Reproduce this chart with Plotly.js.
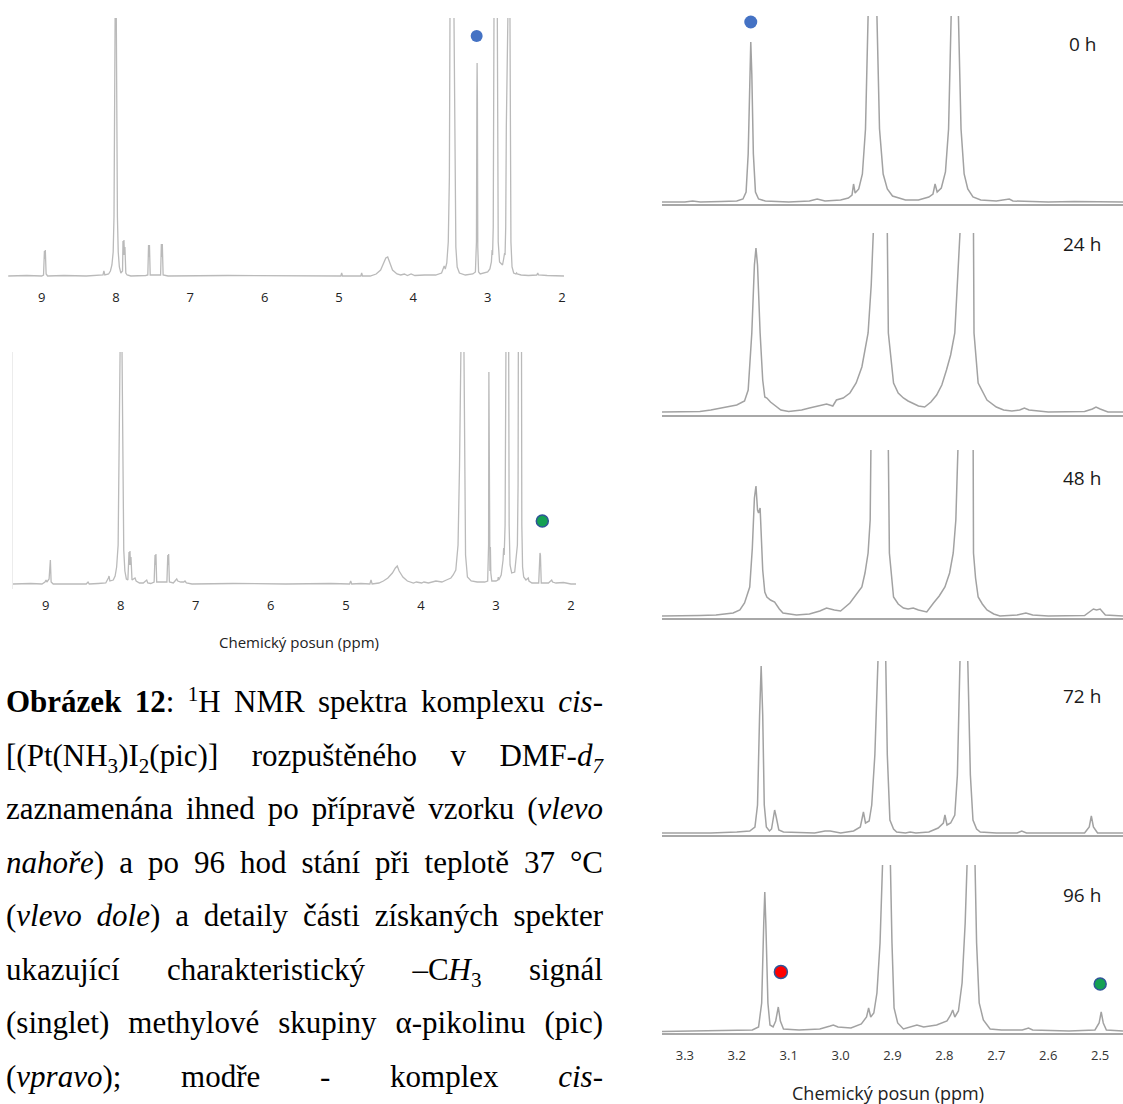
<!DOCTYPE html>
<html>
<head>
<meta charset="utf-8">
<script src="https://cdn.plot.ly/plotly-3.0.1.min.js"></script>
<style>
  html, body { margin:0; padding:0; background:#fff; }
  #wrap { position:relative; width:1123px; height:1104px; overflow:hidden; }
  #chart { position:absolute; left:0; top:0; width:1123px; height:1104px; }
  #caption { position:absolute; left:6px; top:675px; width:597px;
             font-family:"Liberation Serif","Times New Roman",serif; font-size:31px; color:#000; }
  #caption .ln { height:53.5px; line-height:53.5px; text-align:justify; text-align-last:justify; }
  #caption sub, #caption sup { line-height:0; font-size:68%; }
</style>
</head>
<body>
<div id="wrap">
  <div id="chart"></div>
  <div id="caption">
    <div class="ln"><b>Obrázek 12</b>: <sup>1</sup>H NMR spektra komplexu <i>cis</i>-</div>
    <div class="ln">[(Pt(NH<sub>3</sub>)I<sub>2</sub>(pic)] rozpuštěného v DMF-<i>d<sub>7</sub></i></div>
    <div class="ln">zaznamenána ihned po přípravě vzorku (<i>vlevo</i></div>
    <div class="ln"><i>nahoře</i>) a po 96 hod stání při teplotě 37 °C</div>
    <div class="ln">(<i>vlevo dole</i>) a detaily části získaných spekter</div>
    <div class="ln">ukazující charakteristický –C<i>H</i><sub>3</sub> signál</div>
    <div class="ln">(singlet) methylové skupiny α-pikolinu (pic)</div>
    <div class="ln">(<i>vpravo</i>); modře - komplex <i>cis</i>-</div>
  </div>
</div>
<script>
// ---------------- DATA (ppm, intensity) ----------------
// Full spectrum, freshly prepared sample (top left)
const specTop = [[9.45,1],[9.20,1.5],[9.00,1],[8.975,2],[8.963,26],[8.957,18],[8.951,27],[8.940,3],[8.92,1],[8.70,1.5],[8.40,1],[8.25,1.5],[8.175,2],[8.163,6],[8.150,2],[8.10,3],[8.075,6],[8.055,12],[8.038,25],[8.027,60],[8.018,150],[8.012,259],[8.011,400],[7.997,400],[7.996,259],[7.990,150],[7.981,60],[7.970,25],[7.955,10],[7.935,4],[7.912,6],[7.906,36],[7.899,22],[7.893,37],[7.887,22],[7.880,30],[7.868,4],[7.850,2],[7.80,1],[7.60,1.5],[7.572,2],[7.562,32],[7.556,20],[7.550,32],[7.540,2],[7.40,2],[7.390,33],[7.383,20],[7.377,33],[7.366,2],[7.30,1],[6.50,1.5],[5.60,1],[5.00,1],[4.975,1],[4.964,4],[4.953,1],[4.80,1],[4.706,1],[4.695,4],[4.684,1],[4.58,1],[4.50,3],[4.44,7],[4.40,13],[4.37,19],[4.345,20],[4.32,15],[4.28,7],[4.22,3],[4.17,2],[4.12,3],[4.08,1.5],[4.03,3],[3.98,1.5],[3.85,2],[3.70,2],[3.62,4],[3.595,10],[3.585,11],[3.57,8],[3.550,14],[3.530,35],[3.515,100],[3.507,259],[3.506,400],[3.454,400],[3.453,259],[3.442,100],[3.428,30],[3.41,10],[3.38,4],[3.30,2],[3.20,3],[3.165,5],[3.151,35],[3.145,178],[3.142,214],[3.138,178],[3.133,30],[3.122,5],[3.10,3],[3.04,4],[3.00,5],[2.97,8],[2.950,15],[2.940,27],[2.934,22],[2.925,50],[2.918,150],[2.915,259],[2.914,400],[2.871,400],[2.870,259],[2.866,150],[2.858,35],[2.84,15],[2.80,12],[2.785,18],[2.772,24],[2.766,22],[2.757,50],[2.749,150],[2.744,259],[2.743,400],[2.701,400],[2.700,259],[2.696,150],[2.687,35],[2.672,10],[2.65,4],[2.62,3],[2.610,4],[2.602,3],[2.55,2],[2.45,1.5],[2.34,2],[2.326,4],[2.316,2],[2.20,1.5],[2.10,1],[1.973,1]];

// Full spectrum after 96 h at 37 °C (bottom left)
const specBottom = [[9.436,1],[9.20,1.5],[9.05,1],[9.010,3],[8.996,5],[8.985,3],[8.955,6],[8.948,24],[8.943,18],[8.938,25],[8.928,3],[8.90,1],[8.60,1],[8.46,1],[8.436,3],[8.42,1],[8.30,1.5],[8.20,2],[8.165,7],[8.156,9],[8.145,4],[8.10,5],[8.075,9],[8.055,18],[8.035,40],[8.022,110],[8.009,233],[8.008,400],[7.984,400],[7.983,233],[7.972,110],[7.960,35],[7.945,14],[7.925,6],[7.905,5],[7.890,33],[7.883,20],[7.877,34],[7.871,20],[7.864,28],[7.850,5],[7.825,6],[7.810,7],[7.795,4],[7.75,2],[7.70,2],[7.665,4],[7.654,5],[7.640,2],[7.60,1.5],[7.555,3],[7.543,30],[7.537,20],[7.531,31],[7.521,3],[7.385,3],[7.373,30],[7.368,20],[7.362,31],[7.352,3],[7.30,2],[7.270,5],[7.254,6],[7.240,4],[7.20,3],[7.160,3],[7.144,4],[7.125,2],[7.05,1],[6.50,1.5],[5.80,1],[5.20,1.5],[4.95,1],[4.936,4],[4.922,1],[4.80,1.5],[4.68,1],[4.665,5],[4.650,1],[4.56,2],[4.50,4],[4.44,7],[4.38,12],[4.34,17],[4.315,19],[4.29,14],[4.24,8],[4.18,4],[4.13,3],[4.10,2],[4.06,3],[3.99,2],[3.96,3],[3.90,2],[3.80,4],[3.72,3],[3.66,5],[3.60,7],[3.570,10],[3.555,13],[3.535,15],[3.505,40],[3.485,120],[3.467,233],[3.466,400],[3.427,400],[3.426,233],[3.418,100],[3.405,30],[3.38,8],[3.33,4],[3.25,3],[3.15,3],[3.110,4],[3.098,40],[3.094,213],[3.090,133],[3.086,40],[3.080,14],[3.074,38],[3.068,12],[3.055,4],[3.00,4],[2.975,5],[2.969,8],[2.962,5],[2.930,10],[2.905,25],[2.897,37],[2.890,30],[2.878,60],[2.867,233],[2.866,400],[2.831,400],[2.830,233],[2.824,60],[2.812,20],[2.790,12],[2.750,13],[2.735,26],[2.722,35],[2.714,40],[2.705,100],[2.698,233],[2.697,400],[2.663,400],[2.662,233],[2.655,60],[2.645,18],[2.630,8],[2.600,5],[2.575,6],[2.569,7],[2.560,4],[2.520,2],[2.430,2],[2.418,30],[2.413,32],[2.407,30],[2.396,2],[2.30,2],[2.270,4],[2.257,5],[2.245,3],[2.20,2],[2.10,2.5],[2.00,1],[1.933,1]];

// Detail 3.34–2.46 ppm, 0 h
const spec0h = [[3.344,2],[3.30,2],[3.285,3],[3.27,2],[3.23,2.5],[3.20,3],[3.188,5],[3.182,12],[3.178,50],[3.175,130],[3.173,162],[3.171,130],[3.168,50],[3.164,12],[3.158,5],[3.145,3],[3.10,2],[3.06,3],[3.045,5],[3.03,3],[3.00,4],[2.985,6],[2.978,9],[2.975,20],[2.972,11],[2.965,15],[2.958,30],[2.952,75],[2.947,188],[2.946,400],[2.931,400],[2.930,188],[2.925,75],[2.918,30],[2.910,15],[2.900,8],[2.888,6],[2.875,4],[2.85,4],[2.83,7],[2.822,10],[2.818,20],[2.814,12],[2.806,16],[2.798,32],[2.792,75],[2.787,188],[2.786,400],[2.774,400],[2.773,188],[2.768,75],[2.762,30],[2.755,15],[2.745,7],[2.73,4],[2.70,3],[2.682,4],[2.675,5],[2.668,3],[2.60,2],[2.55,2.5],[2.456,2]];

// 24 h
const spec24h = [[3.344,3],[3.30,3],[3.271,3.5],[3.25,5],[3.223,8],[3.20,10],[3.185,14],[3.178,25],[3.171,82],[3.166,150],[3.163,167],[3.160,150],[3.155,82],[3.150,35],[3.146,18],[3.142,17],[3.135,13],[3.127,10],[3.115,5],[3.10,3.5],[3.075,5],[3.06,7],[3.027,11],[3.015,9],[3.008,15],[2.995,17],[2.982,22],[2.970,32],[2.959,48],[2.947,82],[2.941,130],[2.937,182],[2.936,400],[2.911,400],[2.910,182],[2.908,82],[2.898,32],[2.889,22],[2.879,17],[2.870,14],[2.863,12],[2.850,9],[2.838,8],[2.826,13],[2.815,20],[2.805,30],[2.796,45],[2.788,60],[2.780,82],[2.775,130],[2.770,182],[2.769,400],[2.745,400],[2.744,182],[2.743,82],[2.735,32],[2.718,15],[2.700,8],[2.686,5],[2.67,4],[2.655,5],[2.646,7],[2.637,5],[2.60,3],[2.53,3.5],[2.515,6],[2.508,8],[2.500,6],[2.485,3],[2.456,3]];

// 48 h
const spec48h = [[3.344,2],[3.30,2],[3.271,2.5],[3.24,3],[3.207,5],[3.194,8],[3.185,15],[3.175,31],[3.170,70],[3.166,120],[3.163,132],[3.160,108],[3.158,105],[3.155,110],[3.152,80],[3.150,48],[3.146,26],[3.142,21],[3.135,18],[3.127,16],[3.118,9],[3.111,5],[3.085,3],[3.06,4],[3.040,7],[3.027,10],[3.012,8],[3.000,7],[2.982,15],[2.970,24],[2.959,31],[2.953,45],[2.947,65],[2.943,98],[2.938,168],[2.937,400],[2.909,400],[2.908,168],[2.906,65],[2.902,40],[2.898,21],[2.889,14],[2.879,10],[2.870,9],[2.860,10],[2.850,8],[2.834,6],[2.821,15],[2.810,22],[2.799,31],[2.790,45],[2.783,65],[2.778,98],[2.774,168],[2.773,400],[2.746,400],[2.745,168],[2.744,65],[2.740,40],[2.735,21],[2.727,14],[2.718,8],[2.705,4],[2.693,2],[2.66,3],[2.643,5],[2.630,3],[2.60,2],[2.53,2.5],[2.513,9],[2.507,8],[2.500,9],[2.490,3],[2.456,2]];

// 72 h
const spec72h = [[3.344,2],[3.25,2],[3.20,3],[3.175,4],[3.165,8],[3.160,30],[3.156,120],[3.153,169],[3.150,120],[3.147,30],[3.143,8],[3.137,4],[3.133,6],[3.129,20],[3.127,25],[3.124,18],[3.119,5],[3.11,3],[3.05,2],[3.030,4],[3.020,4],[3.00,2],[2.975,4],[2.962,8],[2.956,23],[2.952,12],[2.945,14],[2.940,30],[2.934,80],[2.928,174],[2.927,400],[2.914,400],[2.913,174],[2.910,80],[2.905,15],[2.898,6],[2.892,3],[2.875,2],[2.866,3],[2.855,2],[2.83,3],[2.812,7],[2.802,12],[2.799,20],[2.795,10],[2.788,12],[2.780,20],[2.775,60],[2.770,174],[2.769,400],[2.756,400],[2.755,174],[2.750,60],[2.745,15],[2.738,6],[2.731,3],[2.70,2],[2.660,2],[2.651,4],[2.642,2],[2.60,2],[2.53,2],[2.521,8],[2.517,19],[2.513,8],[2.505,2],[2.456,2]];

// 96 h
const spec96h = [[3.344,1.5],[3.25,2],[3.20,2.5],[3.170,3],[3.158,6],[3.152,30],[3.148,110],[3.146,141],[3.144,110],[3.140,30],[3.136,8],[3.130,6],[3.125,12],[3.120,26],[3.116,12],[3.110,4],[3.08,3],[3.040,4],[3.020,7],[3.014,8],[3.005,6],[2.980,5],[2.960,9],[2.950,16],[2.946,25],[2.942,16],[2.936,20],[2.930,40],[2.924,90],[2.920,168],[2.919,400],[2.905,400],[2.904,168],[2.901,90],[2.897,25],[2.890,10],[2.879,4],[2.865,6],[2.853,8],[2.840,6],[2.815,8],[2.795,12],[2.788,18],[2.784,23],[2.780,16],[2.773,22],[2.766,50],[2.760,110],[2.757,168],[2.756,400],[2.742,400],[2.741,168],[2.738,90],[2.733,30],[2.725,13],[2.712,4],[2.690,3],[2.650,3],[2.638,5],[2.630,3],[2.56,2],[2.510,3],[2.502,10],[2.498,21],[2.494,10],[2.488,3],[2.456,2]];

// Marker dots (ppm, intensity) – blue: cis complex, red / green: products
const dotTopLeft   = {x:[3.148], y:[241]};
const dotBottomLeft= {x:[2.382], y:[64]};
const dot0h        = {x:[3.173], y:[182]};
const dot96hRed    = {x:[3.115], y:[61]};
const dot96hGreen  = {x:[2.500], y:[49]};

// Tick labels
const tickValsFull  = [9, 8, 7, 6, 5, 4, 3, 2];
const tickTextFull  = ['9','8','7','6','5','4','3','2'];
const tickValsDetail = [3.3, 3.2, 3.1, 3.0, 2.9, 2.8, 2.7, 2.6, 2.5];
const tickTextDetail = ['3.3','3.2','3.1','3.0','2.9','2.8','2.7','2.6','2.5'];
const panelLabels = ['0 h', '24 h', '48 h', '72 h', '96 h'];
const axisTitle = 'Chemický posun (ppm)';

// ---------------- LAYOUT ----------------
const W = 1123, H = 1104;
const dx = (a, b) => [a / W, b / W];
const dy = (top, bottom) => [1 - bottom / H, 1 - top / H];

const lineGrayL = '#bababa';
const lineGrayR = '#a2a2a2';
const tickFont = {family: 'Open Sans, sans-serif', size: 13, color: '#222'};

function specTrace(arr, xa, ya, color, width) {
  return {x: arr.map(p => p[0]), y: arr.map(p => p[1]), xaxis: xa, yaxis: ya,
          type: 'scatter', mode: 'lines', line: {color: color, width: width, shape: 'linear'},
          hoverinfo: 'skip'};
}
function dotTrace(d, xa, ya, fill, outline, size) {
  return {x: d.x, y: d.y, xaxis: xa, yaxis: ya, type: 'scatter', mode: 'markers',
          marker: {size: size, color: fill, line: {color: outline || fill, width: outline ? 1.5 : 0}},
          cliponaxis: false, hoverinfo: 'skip'};
}

const traces = [
  specTrace(specTop, 'x', 'y', lineGrayL, 1.3),
  specTrace(specBottom, 'x2', 'y2', lineGrayL, 1.3),
  specTrace(spec0h, 'x3', 'y3', lineGrayR, 1.5),
  specTrace(spec24h, 'x4', 'y4', lineGrayR, 1.5),
  specTrace(spec48h, 'x5', 'y5', lineGrayR, 1.5),
  specTrace(spec72h, 'x6', 'y6', lineGrayR, 1.5),
  specTrace(spec96h, 'x7', 'y7', lineGrayR, 1.5),
  dotTrace(dotTopLeft, 'x', 'y', '#4472C4', null, 12),
  dotTrace(dotBottomLeft, 'x2', 'y2', '#14A053', '#2F5597', 12),
  dotTrace(dot0h, 'x3', 'y3', '#4472C4', null, 13),
  dotTrace(dot96hRed, 'x7', 'y7', '#FF0000', '#2F5597', 13),
  dotTrace(dot96hGreen, 'x7', 'y7', '#14A053', '#2F5597', 12)
];

const hiddenY = {visible: false, showgrid: false, zeroline: false, fixedrange: true};
function fullX(domain, range, anchor) {
  return {domain: domain, range: range, anchor: anchor, tickmode: 'array',
          tickvals: tickValsFull, ticktext: tickTextFull, tickfont: tickFont,
          ticks: 'outside', ticklen: 4, tickcolor: 'rgba(0,0,0,0)',
          showgrid: false, zeroline: false, showline: false};
}
function detailX(domain, anchor, showLabels) {
  return {domain: domain, range: [3.344, 2.456], anchor: anchor, tickmode: 'array',
          tickvals: tickValsDetail, ticktext: tickTextDetail,
          tickfont: {family: 'Open Sans, sans-serif', size: 13, color: '#333'},
          showticklabels: showLabels, ticks: 'outside', ticklen: 10, tickcolor: 'rgba(0,0,0,0)',
          showgrid: false, zeroline: false, showline: true, linecolor: '#a8a8a8', linewidth: 1.5};
}

const rightPanels = [
  {top: 16,  bottom: 204,  h: 188, labelY: 44},
  {top: 233, bottom: 415,  h: 182, labelY: 244},
  {top: 450, bottom: 618,  h: 168, labelY: 478},
  {top: 661, bottom: 835,  h: 174, labelY: 696},
  {top: 865, bottom: 1033, h: 168, labelY: 895}
];

const layout = {
  width: W, height: H, margin: {l: 0, r: 0, t: 0, b: 0},
  paper_bgcolor: '#ffffff', plot_bgcolor: 'rgba(0,0,0,0)', showlegend: false,
  xaxis: fullX(dx(8, 564), [9.453, 1.973], 'y'),
  yaxis: Object.assign({domain: dy(18, 281), range: [-4, 259], anchor: 'x'}, hiddenY),
  xaxis2: fullX(dx(13, 576), [9.436, 1.933], 'y2'),
  yaxis2: {domain: dy(352, 589), range: [-4, 233], anchor: 'x2', showline: true,
           linecolor: '#ececec', linewidth: 1, showticklabels: false, ticks: '',
           showgrid: false, zeroline: false},
  annotations: []
};
rightPanels.forEach((p, i) => {
  const n = i + 3;
  layout['xaxis' + n] = detailX(dx(662, 1123), 'y' + n, i === 4);
  layout['yaxis' + n] = Object.assign({domain: dy(p.top, p.bottom), range: [0, p.h], anchor: 'x' + n}, hiddenY);
  layout.annotations.push({xref: 'paper', yref: 'paper', x: 1082 / W, y: 1 - p.labelY / H,
    text: panelLabels[i], showarrow: false, xanchor: 'center', yanchor: 'middle',
    font: {family: 'Open Sans, sans-serif', size: 19, color: '#1a1a1a'}});
});
layout.annotations.push({xref: 'paper', yref: 'paper', x: 299 / W, y: 1 - 642 / H,
  text: axisTitle, showarrow: false, xanchor: 'center', yanchor: 'middle',
  font: {family: 'Open Sans, sans-serif', size: 15, color: '#222'}});
layout.annotations.push({xref: 'paper', yref: 'paper', x: 888 / W, y: 1 - 1093 / H,
  text: axisTitle, showarrow: false, xanchor: 'center', yanchor: 'middle',
  font: {family: 'Open Sans, sans-serif', size: 18, color: '#222'}});

Plotly.newPlot('chart', traces, layout, {staticPlot: true, displayModeBar: false});
</script>
</body>
</html>
